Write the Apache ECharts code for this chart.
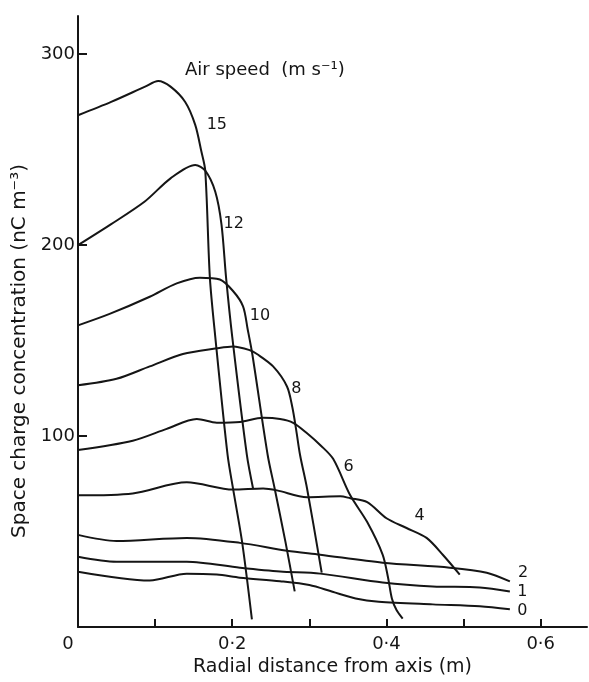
<!DOCTYPE html>
<html>
<head>
<meta charset="utf-8">
<title>Space charge concentration</title>
<script src="https://cdn.jsdelivr.net/npm/echarts@6/dist/echarts.min.js"></script>
<style>
  html, body { margin: 0; padding: 0; background: #fff; }
  #chart { width: 589px; height: 682px; }
</style>
</head>
<body>
<div id="chart"></div>
<script>
// air speeds (m/s) and the profile for each one: [radial distance (m), concentration (nC/m3)]
var speeds = ['15', '12', '10', '8', '6', '4', '2', '1', '0'];

var s15 = [[0,268],[0.043,275],[0.087,283],[0.104,286],[0.12,283],[0.139,275],[0.152,263],[0.16,249],[0.165,239],[0.171,183],[0.178,152],[0.194,90],[0.201,72.6],[0.213,44],[0.2255,4]];
var s12 = [[0,200],[0.043,211],[0.087,223],[0.12,235],[0.152,242],[0.165,239],[0.178,228],[0.186,211],[0.192,183],[0.2,152],[0.219,90],[0.227,72.6]];
var s10 = [[0,158],[0.041,164],[0.093,173],[0.128,180],[0.158,183],[0.184,182],[0.201,176],[0.214,168],[0.22,156],[0.226,143],[0.246,90],[0.255,72.6],[0.269,44.6],[0.281,18.7]];
var s8 = [[0,126.6],[0.05,130],[0.093,136.5],[0.136,143],[0.18,146],[0.201,147],[0.223,145],[0.232,143],[0.253,136.5],[0.271,126],[0.278,115],[0.283,103],[0.288,90],[0.297,72.6],[0.316,28.5]];
var s6 = [[0,92.7],[0.071,97.6],[0.115,103.8],[0.154,109],[0.18,107],[0.21,107.4],[0.24,109.6],[0.262,109],[0.279,107],[0.297,101.5],[0.315,95],[0.331,88],[0.353,69],[0.375,55],[0.395,38],[0.402,26],[0.407,15],[0.413,9],[0.421,4.5]];
var s4 = [[0,69],[0.071,70],[0.141,75.8],[0.201,72],[0.24,72.6],[0.258,71.6],[0.297,68],[0.34,68.5],[0.353,67.5],[0.375,65.4],[0.4,57],[0.426,51.9],[0.452,46.7],[0.473,37.9],[0.495,27.5]];
var s2 = [[0,48.3],[0.05,45.1],[0.141,46.7],[0.21,44.1],[0.271,40],[0.314,37.9],[0.395,33.7],[0.482,31.1],[0.53,28.5],[0.56,23.9]];
var s1 = [[0,36.8],[0.05,34.2],[0.141,34.2],[0.21,31.1],[0.262,29.1],[0.314,28],[0.395,23.4],[0.46,21.3],[0.521,20.8],[0.56,18.7]];
var s0 = [[0,29],[0.093,24.4],[0.141,28],[0.18,27.5],[0.21,25.9],[0.262,24],[0.3,22],[0.33,18.5],[0.36,15],[0.39,13.3],[0.46,11.9],[0.521,10.9],[0.56,9.3]];

var profiles = [s15, s12, s10, s8, s6, s4, s2, s1, s0];

// where the speed numbers are written next to the curves
var labelAt = [[0.18,263],[0.202,211],[0.236,163],[0.283,125],[0.351,84],[0.443,58],[0.577,28.5],[0.576,18.7],[0.576,8.3]];

// axis ticks
var xTicks = [0.1, 0.2, 0.3, 0.4, 0.5, 0.6];
var xLabels = [0, 0.2, 0.4, 0.6];
var yTicks = [100, 200, 300];

var font = 'DejaVu Sans';
var ink = '#151515';

var series = [];
for (var i = 0; i < profiles.length; i++) {
    series.push({
        name: speeds[i],
        type: 'line',
        data: profiles[i],
        smooth: 0.3,
        showSymbol: false,
        lineStyle: { color: ink, width: 2 },
        silent: true
    });
}

var labelData = [];
for (var j = 0; j < labelAt.length; j++) {
    labelData.push([labelAt[j][0], labelAt[j][1], speeds[j]]);
}
series.push({
    type: 'scatter',
    data: labelData,
    symbolSize: 0,
    silent: true,
    itemStyle: { opacity: 1 },
    label: {
        show: true,
        position: 'inside',
        formatter: function (p) { return p.data[2]; },
        color: ink,
        fontFamily: font,
        fontSize: 16
    }
});

var myChart = echarts.init(document.getElementById('chart'));
var option = {
    backgroundColor: '#fff',
    animation: false,
    grid: { left: 78, right: 2, top: 16, bottom: 49 },
    xAxis: {
        type: 'value',
        min: 0,
        max: 0.66,
        interval: 0.1,
        name: 'Radial distance from axis (m)',
        nameLocation: 'middle',
        nameGap: 29,
        nameTextStyle: { color: ink, fontFamily: font, fontSize: 19 },
        axisLine: { lineStyle: { color: ink, width: 2 } },
        axisTick: { inside: true, length: 8, customValues: xTicks, lineStyle: { color: ink, width: 2 } },
        axisLabel: {
            customValues: xLabels,
            margin: 8,
            color: ink,
            fontFamily: font,
            fontSize: 18,
            formatter: function (v) {
                if (v === 0) return '{z|0}';
                return v.toFixed(1).replace('.', '·');
            },
            rich: { z: { fontFamily: font, fontSize: 18, color: ink, padding: [0, 20, 0, 0] } }
        },
        splitLine: { show: false }
    },
    yAxis: {
        type: 'value',
        min: 0,
        max: 320,
        interval: 100,
        axisLine: { show: true, lineStyle: { color: ink, width: 2 } },
        axisTick: { show: true, inside: true, length: 9, customValues: yTicks, lineStyle: { color: ink, width: 2 } },
        axisLabel: {
            customValues: yTicks,
            margin: 3,
            color: ink,
            fontFamily: font,
            fontSize: 18
        },
        splitLine: { show: false }
    },
    graphic: [
        {
            type: 'text',
            x: 20,
            y: 351,
            rotation: Math.PI / 2,
            style: {
                text: 'Space charge concentration (nC m⁻³)',
                fill: ink,
                font: '20px "DejaVu Sans"',
                textAlign: 'center',
                textVerticalAlign: 'middle'
            }
        },
        {
            type: 'text',
            x: 185,
            y: 70,
            style: {
                text: 'Air speed  (m s⁻¹)',
                fill: ink,
                font: '18px "DejaVu Sans"',
                textAlign: 'left',
                textVerticalAlign: 'middle'
            }
        }
    ],
    series: series
};
myChart.setOption(option);
window.addEventListener('resize', function () {
    myChart.resize();
});
</script>
</body>
</html>
